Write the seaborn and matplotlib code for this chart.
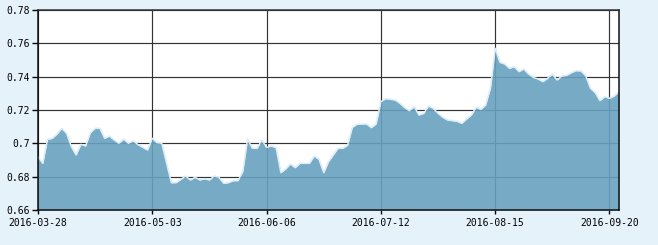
import matplotlib
matplotlib.use("Agg")
import matplotlib.pyplot as plt
import seaborn as sns
import numpy as np
import pandas as pd

# ---- data (trading-day series) ----
values = [
    0.692, 0.688, 0.7024, 0.703, 0.7056, 0.709, 0.706, 0.698, 0.693, 0.6994,
    0.6984, 0.7064, 0.709, 0.709, 0.703, 0.7044, 0.702, 0.700, 0.7026, 0.700,
    0.7016, 0.6992, 0.6976, 0.696, 0.703, 0.7004, 0.700, 0.688, 0.6764, 0.6764,
    0.6784, 0.6804, 0.678, 0.6796, 0.678, 0.6788, 0.678, 0.6804, 0.6796, 0.676,
    0.6764, 0.6776, 0.6776, 0.683, 0.7026, 0.697, 0.697, 0.702, 0.6976, 0.6984,
    0.6974, 0.6824, 0.6846, 0.6876, 0.6854, 0.688, 0.688, 0.688, 0.6924, 0.6904,
    0.6824, 0.689, 0.693, 0.697, 0.697, 0.6988, 0.7096, 0.7114, 0.7116, 0.7116,
    0.7094, 0.7116, 0.725, 0.7268, 0.7264, 0.726, 0.724, 0.7214, 0.7196, 0.722,
    0.717, 0.718, 0.7224, 0.721, 0.718, 0.7156, 0.714, 0.7136, 0.7132, 0.712,
    0.7146, 0.717, 0.7216, 0.7204, 0.723, 0.733, 0.757, 0.7486, 0.7476, 0.745,
    0.746, 0.743, 0.7446, 0.7416, 0.7396, 0.7386, 0.737, 0.739, 0.7416, 0.738,
    0.7404, 0.7408, 0.7424, 0.7436, 0.7434, 0.7406, 0.733, 0.7304, 0.7256, 0.728,
    0.727, 0.7284, 0.731,
]
x_tick_labels = ["2016-03-28", "2016-05-03", "2016-06-06",
                 "2016-07-12", "2016-08-15", "2016-09-20"]
y_ticks = [0.66, 0.68, 0.70, 0.72, 0.74, 0.76, 0.78]
y_tick_labels = ["0.66", "0.68", "0.7", "0.72", "0.74", "0.76", "0.78"]
tick_every = 24  # trading days between labelled ticks

df = pd.DataFrame({"idx": np.arange(len(values)), "value": values})

sns.set_style("white")
plt.rcParams["font.family"] = ["DejaVu Sans Mono"]

fig = plt.figure(figsize=(6.58, 2.45), dpi=100, facecolor="#e6f2fa")
ax = fig.add_axes([38 / 658, 35 / 245, 581 / 658, 200 / 245])
ax.set_facecolor("white")

ymin, ymax = y_ticks[0], y_ticks[-1]
ax.fill_between(df["idx"], ymin, df["value"], color="#67a1bf", alpha=0.9,
                lw=0, zorder=2)
sns.lineplot(data=df, x="idx", y="value", ax=ax, color="#dcedf8", lw=1.1,
             zorder=3, legend=False)

ax.set_xlim(0, len(values) - 1)
ax.set_ylim(ymin, ymax)
ax.set_xticks(np.arange(0, len(values), tick_every)[:len(x_tick_labels)])
ax.set_xticklabels(x_tick_labels)
ax.set_yticks(y_ticks)
ax.set_yticklabels(y_tick_labels)
ax.set_xlabel("")
ax.set_ylabel("")

ax.set_axisbelow(True)
ax.grid(True, color="#333333", lw=0.85)

for side, sp in ax.spines.items():
    sp.set_visible(True)
    sp.set_color("#111111" if side != "top" else "#333333")
    sp.set_linewidth(1.1)
    sp.set_zorder(4)

ax.tick_params(axis="y", direction="out", length=4, width=1, pad=1.5,
               labelsize=7, colors="black", left=True)
ax.tick_params(axis="x", direction="out", length=3, width=1, pad=2.5,
               labelsize=7, colors="black", bottom=True)

fig.savefig("out.png", dpi=100, facecolor=fig.get_facecolor())
